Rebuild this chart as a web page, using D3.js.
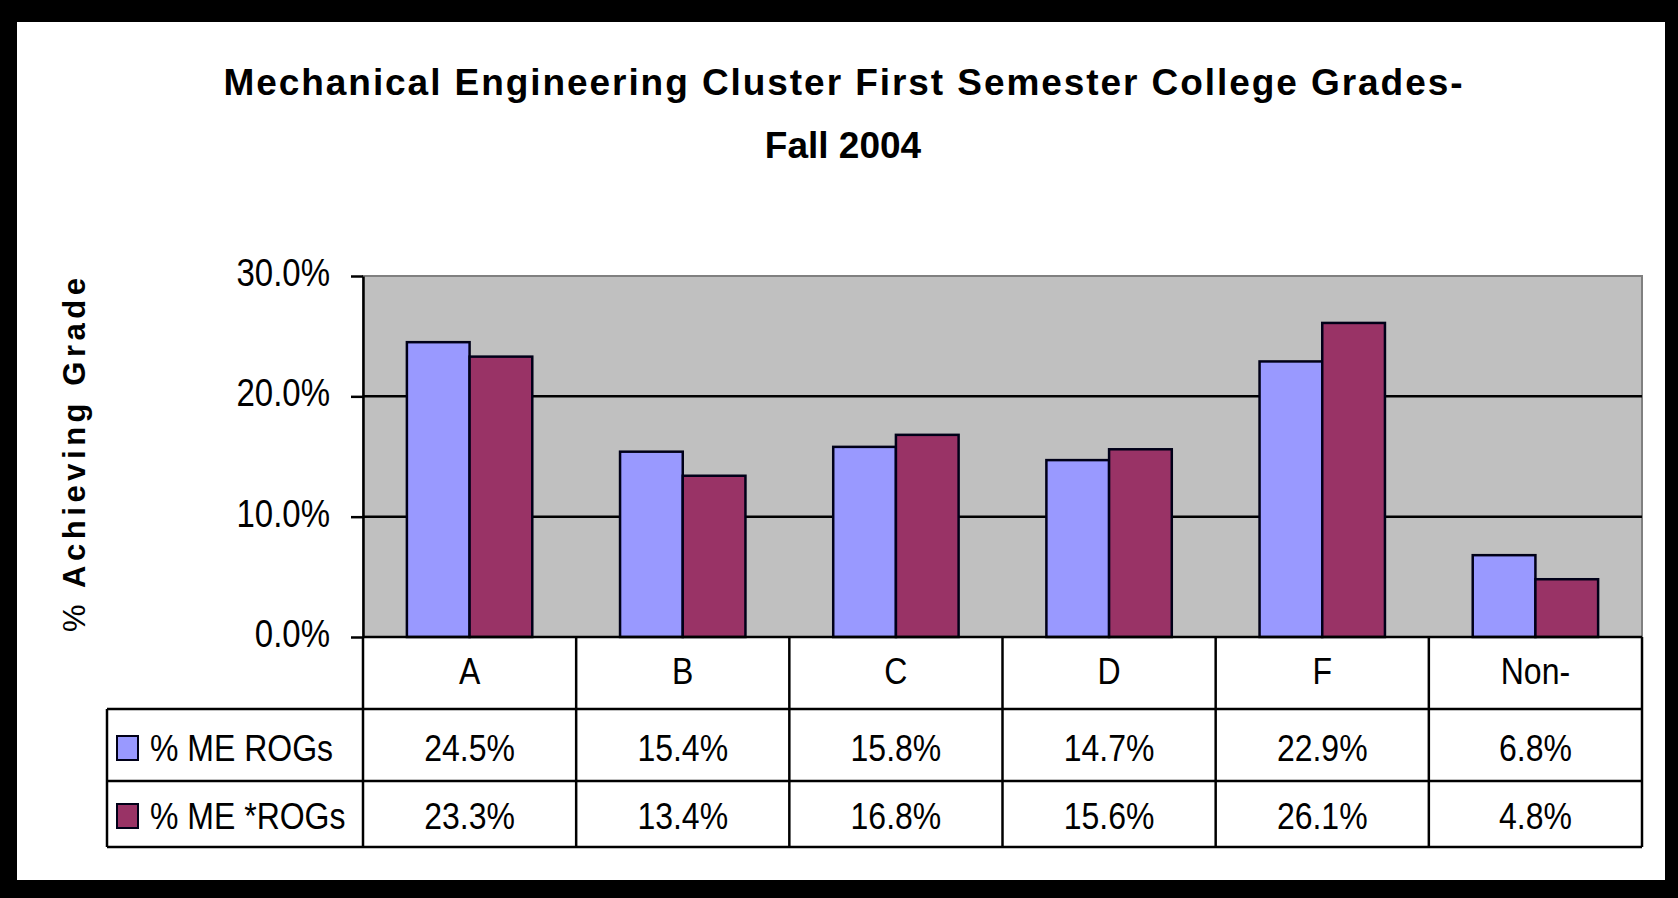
<!DOCTYPE html>
<html>
<head>
<meta charset="utf-8">
<script src="https://cdn.jsdelivr.net/npm/d3@7"></script>
<style>
  body { margin: 0; background: #000; }
  text { font-family: "Liberation Sans", Arial, sans-serif; }
</style>
</head>
<body>
<div id="root"></div>
<script>
const categories = ["A", "B", "C", "D", "F", "Non-"];
const seriesNames = ["% ME ROGs", "% ME *ROGs"];
const meRogs = [24.5, 15.4, 15.8, 14.7, 22.9, 6.8];
const meStarRogs = [23.3, 13.4, 16.8, 15.6, 26.1, 4.8];
const yTicks = [0, 10, 20, 30];
const colors = ["#9999ff", "#993366"];

const width = 1678;
const height = 898;

const plot = { left: 363, right: 1642, top: 276, bottom: 637 };
const rows = [637, 709, 781, 847];
const tableLeft = 107;
const bodyFont = 32;
const tall = 1.15; // the old chart's text is drawn narrow and tall

// move x/y into a transform so the glyphs can be stretched upward
function stretchY(sel, sy) {
  sel.each(function() {
    var t = d3.select(this);
    var x = +t.attr("x") || 0, y = +t.attr("y") || 0;
    t.attr("x", 0).attr("y", 0)
      .attr("transform", "translate(" + x + "," + y + ") scale(1," + sy + ")");
  });
}

var svg = d3.select("#root").append("svg")
  .attr("width", width)
  .attr("height", height);

// black frame + white card
svg.append("rect").attr("width", width).attr("height", height).attr("fill", "#000");
svg.append("rect")
  .attr("x", 17).attr("y", 22)
  .attr("width", 1665 - 17).attr("height", 880 - 22)
  .attr("fill", "#fff");

var xScale = d3.scaleBand()
  .domain(categories)
  .range([plot.left, plot.right]);

var innerScale = d3.scaleBand()
  .domain(d3.range(seriesNames.length))
  .range([0, xScale.bandwidth()])
  .paddingOuter(0.7);

var yScale = d3.scaleLinear()
  .domain([0, 30])
  .range([plot.bottom, plot.top]);

// title
var title = svg.append("g")
  .attr("font-weight", "bold")
  .attr("font-size", 37)
  .attr("text-anchor", "middle");
title.append("text").attr("x", 843).attr("y", 95)
  .attr("textLength", 1239)
  .attr("lengthAdjust", "spacing")
  .text("Mechanical Engineering Cluster First Semester College Grades-");
title.append("text").attr("x", 843).attr("y", 158)
  .text("Fall 2004");

// plot area
svg.append("rect")
  .attr("x", plot.left).attr("y", plot.top)
  .attr("width", plot.right - plot.left)
  .attr("height", plot.bottom - plot.top)
  .attr("fill", "#c0c0c0")
  .attr("stroke", "#808080")
  .attr("stroke-width", 2);

svg.append("g")
  .selectAll("line")
  .data(yTicks.filter(d => d > 0 && d < 30))
  .enter().append("line")
  .attr("x1", plot.left).attr("x2", plot.right)
  .attr("y1", d => yScale(d)).attr("y2", d => yScale(d))
  .attr("stroke", "#000")
  .attr("stroke-width", 2.5);

// bars
var series = [meRogs, meStarRogs];
var groups = svg.append("g")
  .selectAll("g")
  .data(series)
  .enter().append("g")
  .attr("fill", (d, i) => colors[i]);

groups.selectAll("rect")
  .data((d, i) => d.map((v, j) => ({ s: i, cat: categories[j], v: v })))
  .enter().append("rect")
  .attr("x", d => xScale(d.cat) + innerScale(d.s))
  .attr("y", d => yScale(d.v))
  .attr("width", innerScale.bandwidth())
  .attr("height", d => yScale(0) - yScale(d.v))
  .attr("stroke", "#000018")
  .attr("stroke-width", 2.5);

// y axis
var yAxis = d3.axisLeft(yScale)
  .tickValues(yTicks)
  .tickSize(12)
  .tickSizeOuter(0)
  .tickPadding(21)
  .tickFormat(d => d.toFixed(1) + "%");

var axisG = svg.append("g")
  .attr("transform", "translate(" + plot.left + ",0)")
  .call(yAxis);
axisG.select(".domain").attr("stroke", "#000").attr("stroke-width", 2.5);
axisG.selectAll(".tick line").attr("stroke", "#000").attr("stroke-width", 2.5);
axisG.selectAll(".tick text")
  .attr("font-size", 33)
  .attr("font-family", null)
  .attr("fill", "#000")
  .attr("dy", "0.25em")
  .call(stretchY, tall);

// y label
var yLabel = svg.append("text")
  .attr("transform", "translate(85,455) rotate(-90)")
  .attr("text-anchor", "middle")
  .attr("font-weight", "bold")
  .attr("font-size", 31)
  .attr("textLength", 354)
  .attr("lengthAdjust", "spacing");
yLabel.append("tspan").attr("font-weight", "normal").text("%");
yLabel.append("tspan").text(" Achieving Grade");

// data table
var table = svg.append("g")
  .attr("stroke", "#000")
  .attr("stroke-width", 2.5);

table.append("line")
  .attr("x1", plot.left).attr("x2", plot.right)
  .attr("y1", rows[0]).attr("y2", rows[0]);

rows.slice(1).forEach(function(r) {
  table.append("line")
    .attr("x1", tableLeft).attr("x2", plot.right)
    .attr("y1", r).attr("y2", r);
});

table.append("line")
  .attr("x1", tableLeft).attr("x2", tableLeft)
  .attr("y1", rows[1]).attr("y2", rows[3]);

var edges = categories.map(c => xScale(c)).concat([xScale.range()[1]]);
table.selectAll(".vline")
  .data(edges)
  .enter().append("line")
  .attr("class", "vline")
  .attr("x1", d => d).attr("x2", d => d)
  .attr("y1", rows[0]).attr("y2", rows[3]);

var cellText = svg.append("g")
  .attr("font-size", bodyFont)
  .attr("text-anchor", "middle");

cellText.selectAll(".cat")
  .data(categories)
  .enter().append("text")
  .attr("class", "cat")
  .attr("x", d => xScale(d) + xScale.bandwidth() / 2)
  .attr("y", 684)
  .text(d => d)
  .call(stretchY, tall);

var rowBase = [761, 829];
series.forEach(function(vals, i) {
  cellText.selectAll(".v" + i)
    .data(vals)
    .enter().append("text")
    .attr("class", "v" + i)
    .attr("x", (d, j) => xScale(categories[j]) + xScale.bandwidth() / 2)
    .attr("y", rowBase[i])
    .text(d => d.toFixed(1) + "%")
    .call(stretchY, tall);
});

// legend keys in table
var legend = svg.append("g");
seriesNames.forEach(function(name, i) {
  legend.append("rect")
    .attr("x", 117)
    .attr("y", rowBase[i] - 25)
    .attr("width", 21)
    .attr("height", 24)
    .attr("fill", colors[i])
    .attr("stroke", "#000018")
    .attr("stroke-width", 2);
  legend.append("text")
    .attr("x", 150)
    .attr("y", rowBase[i])
    .attr("font-size", bodyFont)
    .text(name)
    .call(stretchY, tall);
});
</script>
</body>
</html>
